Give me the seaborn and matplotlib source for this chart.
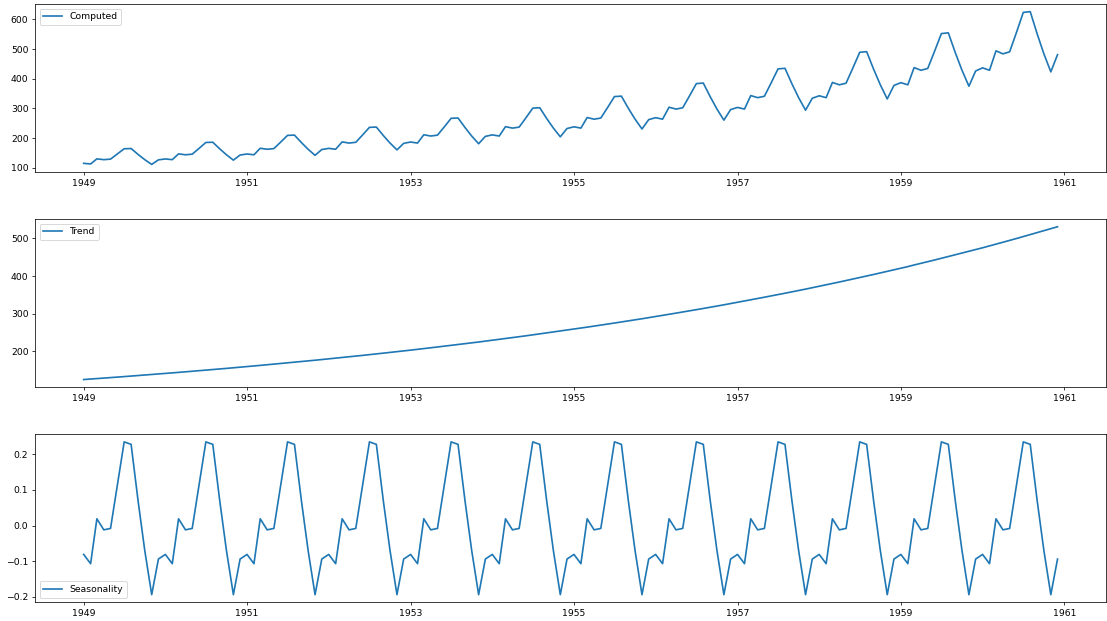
import matplotlib
matplotlib.use("Agg")
import matplotlib.pyplot as plt
import matplotlib.dates as mdates
from matplotlib.ticker import MultipleLocator
import seaborn as sns
import pandas as pd
import numpy as np

# monthly values, Jan 1949 .. Dec 1960 (one row per year)
computed = [
    114.9, 112.8, 130.0, 127.3, 129.1, 146.6, 164.0, 164.8, 145.0, 127.3, 111.3, 126.6,
    129.7, 127.3, 146.8, 143.7, 145.8, 165.5, 185.2, 186.0, 163.7, 143.8, 125.7, 142.9,
    146.4, 143.7, 165.7, 162.3, 164.6, 186.9, 209.1, 210.0, 184.9, 162.3, 141.9, 161.4,
    165.3, 162.3, 187.1, 183.2, 185.8, 211.0, 236.1, 237.1, 208.7, 183.3, 160.2, 182.2,
    186.7, 183.2, 211.2, 206.9, 209.8, 238.2, 266.6, 267.7, 235.7, 206.9, 180.9, 205.7,
    210.8, 206.9, 238.5, 233.6, 236.9, 269.0, 300.9, 302.3, 266.1, 233.6, 204.3, 232.2,
    238.0, 233.6, 269.2, 263.7, 267.5, 303.7, 339.8, 341.3, 300.4, 263.8, 230.6, 262.2,
    268.7, 263.7, 304.0, 297.7, 302.0, 342.9, 383.6, 385.3, 339.2, 297.8, 260.4, 296.0,
    303.3, 297.7, 343.2, 336.2, 340.9, 387.1, 433.1, 435.1, 382.9, 336.2, 294.0, 334.2,
    342.5, 336.2, 387.5, 379.5, 384.9, 437.1, 489.0, 491.2, 432.3, 379.6, 331.9, 377.4,
    386.7, 379.5, 437.5, 428.5, 434.6, 493.5, 552.1, 554.6, 488.1, 428.6, 374.8, 426.1,
    436.6, 428.5, 494.0, 483.8, 490.7, 557.1, 623.4, 626.1, 551.1, 483.9, 423.1, 481.0,
]

trend = [
    125.0, 126.3, 127.6, 128.9, 130.2, 131.5, 132.8, 134.2, 135.5, 136.9, 138.3, 139.7,
    141.1, 142.6, 144.0, 145.5, 147.0, 148.5, 150.0, 151.5, 153.0, 154.6, 156.2, 157.7,
    159.3, 161.0, 162.6, 164.3, 165.9, 167.6, 169.3, 171.0, 172.8, 174.5, 176.3, 178.1,
    179.9, 181.7, 183.6, 185.4, 187.3, 189.2, 191.2, 193.1, 195.1, 197.0, 199.0, 201.1,
    203.1, 205.2, 207.3, 209.4, 211.5, 213.7, 215.8, 218.0, 220.2, 222.5, 224.7, 227.0,
    229.3, 231.7, 234.0, 236.4, 238.8, 241.2, 243.7, 246.2, 248.7, 251.2, 253.7, 256.3,
    258.9, 261.6, 264.2, 266.9, 269.6, 272.4, 275.1, 277.9, 280.7, 283.6, 286.5, 289.4,
    292.3, 295.3, 298.3, 301.4, 304.4, 307.5, 310.6, 313.8, 317.0, 320.2, 323.5, 326.8,
    330.1, 333.4, 336.8, 340.2, 343.7, 347.2, 350.7, 354.3, 357.9, 361.5, 365.2, 368.9,
    372.7, 376.4, 380.3, 384.1, 388.0, 392.0, 396.0, 400.0, 404.1, 408.2, 412.3, 416.5,
    420.7, 425.0, 429.3, 433.7, 438.1, 442.6, 447.1, 451.6, 456.2, 460.8, 465.5, 470.3,
    475.0, 479.9, 484.7, 489.7, 494.6, 499.7, 504.8, 509.9, 515.1, 520.3, 525.6, 530.9,
]

seasonality = [
    -0.081, -0.107, 0.019, -0.012, -0.008, 0.115, 0.235, 0.228, 0.070, -0.070, -0.194, -0.094,
    -0.081, -0.107, 0.019, -0.012, -0.008, 0.115, 0.235, 0.228, 0.070, -0.070, -0.194, -0.094,
    -0.081, -0.107, 0.019, -0.012, -0.008, 0.115, 0.235, 0.228, 0.070, -0.070, -0.194, -0.094,
    -0.081, -0.107, 0.019, -0.012, -0.008, 0.115, 0.235, 0.228, 0.070, -0.070, -0.194, -0.094,
    -0.081, -0.107, 0.019, -0.012, -0.008, 0.115, 0.235, 0.228, 0.070, -0.070, -0.194, -0.094,
    -0.081, -0.107, 0.019, -0.012, -0.008, 0.115, 0.235, 0.228, 0.070, -0.070, -0.194, -0.094,
    -0.081, -0.107, 0.019, -0.012, -0.008, 0.115, 0.235, 0.228, 0.070, -0.070, -0.194, -0.094,
    -0.081, -0.107, 0.019, -0.012, -0.008, 0.115, 0.235, 0.228, 0.070, -0.070, -0.194, -0.094,
    -0.081, -0.107, 0.019, -0.012, -0.008, 0.115, 0.235, 0.228, 0.070, -0.070, -0.194, -0.094,
    -0.081, -0.107, 0.019, -0.012, -0.008, 0.115, 0.235, 0.228, 0.070, -0.070, -0.194, -0.094,
    -0.081, -0.107, 0.019, -0.012, -0.008, 0.115, 0.235, 0.228, 0.070, -0.070, -0.194, -0.094,
    -0.081, -0.107, 0.019, -0.012, -0.008, 0.115, 0.235, 0.228, 0.070, -0.070, -0.194, -0.094,
]

tick_years = ["1949", "1951", "1953", "1955", "1957", "1959", "1961"]

dates = pd.date_range("1949-01-01", periods=len(computed), freq="MS")
df = pd.DataFrame({"date": dates, "Computed": computed,
                   "Trend": trend, "Seasonality": seasonality})

# the reference looks like a big figure shrunk down, so draw at a low dpi
DPI = 67
fig, axes = plt.subplots(3, 1, figsize=(1107 / DPI, 621 / DPI), dpi=DPI)
plt.subplots_adjust(left=0.0316, right=0.9993, top=0.9936, bottom=0.0301, hspace=0.28)

legend_loc = ["upper left", "upper left", "lower left"]
y_step = [100, 100, 0.1]
for ax, col, loc, step in zip(axes, ["Computed", "Trend", "Seasonality"], legend_loc, y_step):
    sns.lineplot(data=df, x="date", y=col, ax=ax, label=col, color="#1f77b4", linewidth=1.8)
    ax.set_xlabel("")
    ax.set_ylabel("")
    ax.set_xticks(pd.to_datetime(tick_years))
    ax.xaxis.set_major_formatter(mdates.DateFormatter("%Y"))
    ax.yaxis.set_major_locator(MultipleLocator(step))
    ax.legend(loc=loc)

fig.savefig("out.png", dpi=DPI)
